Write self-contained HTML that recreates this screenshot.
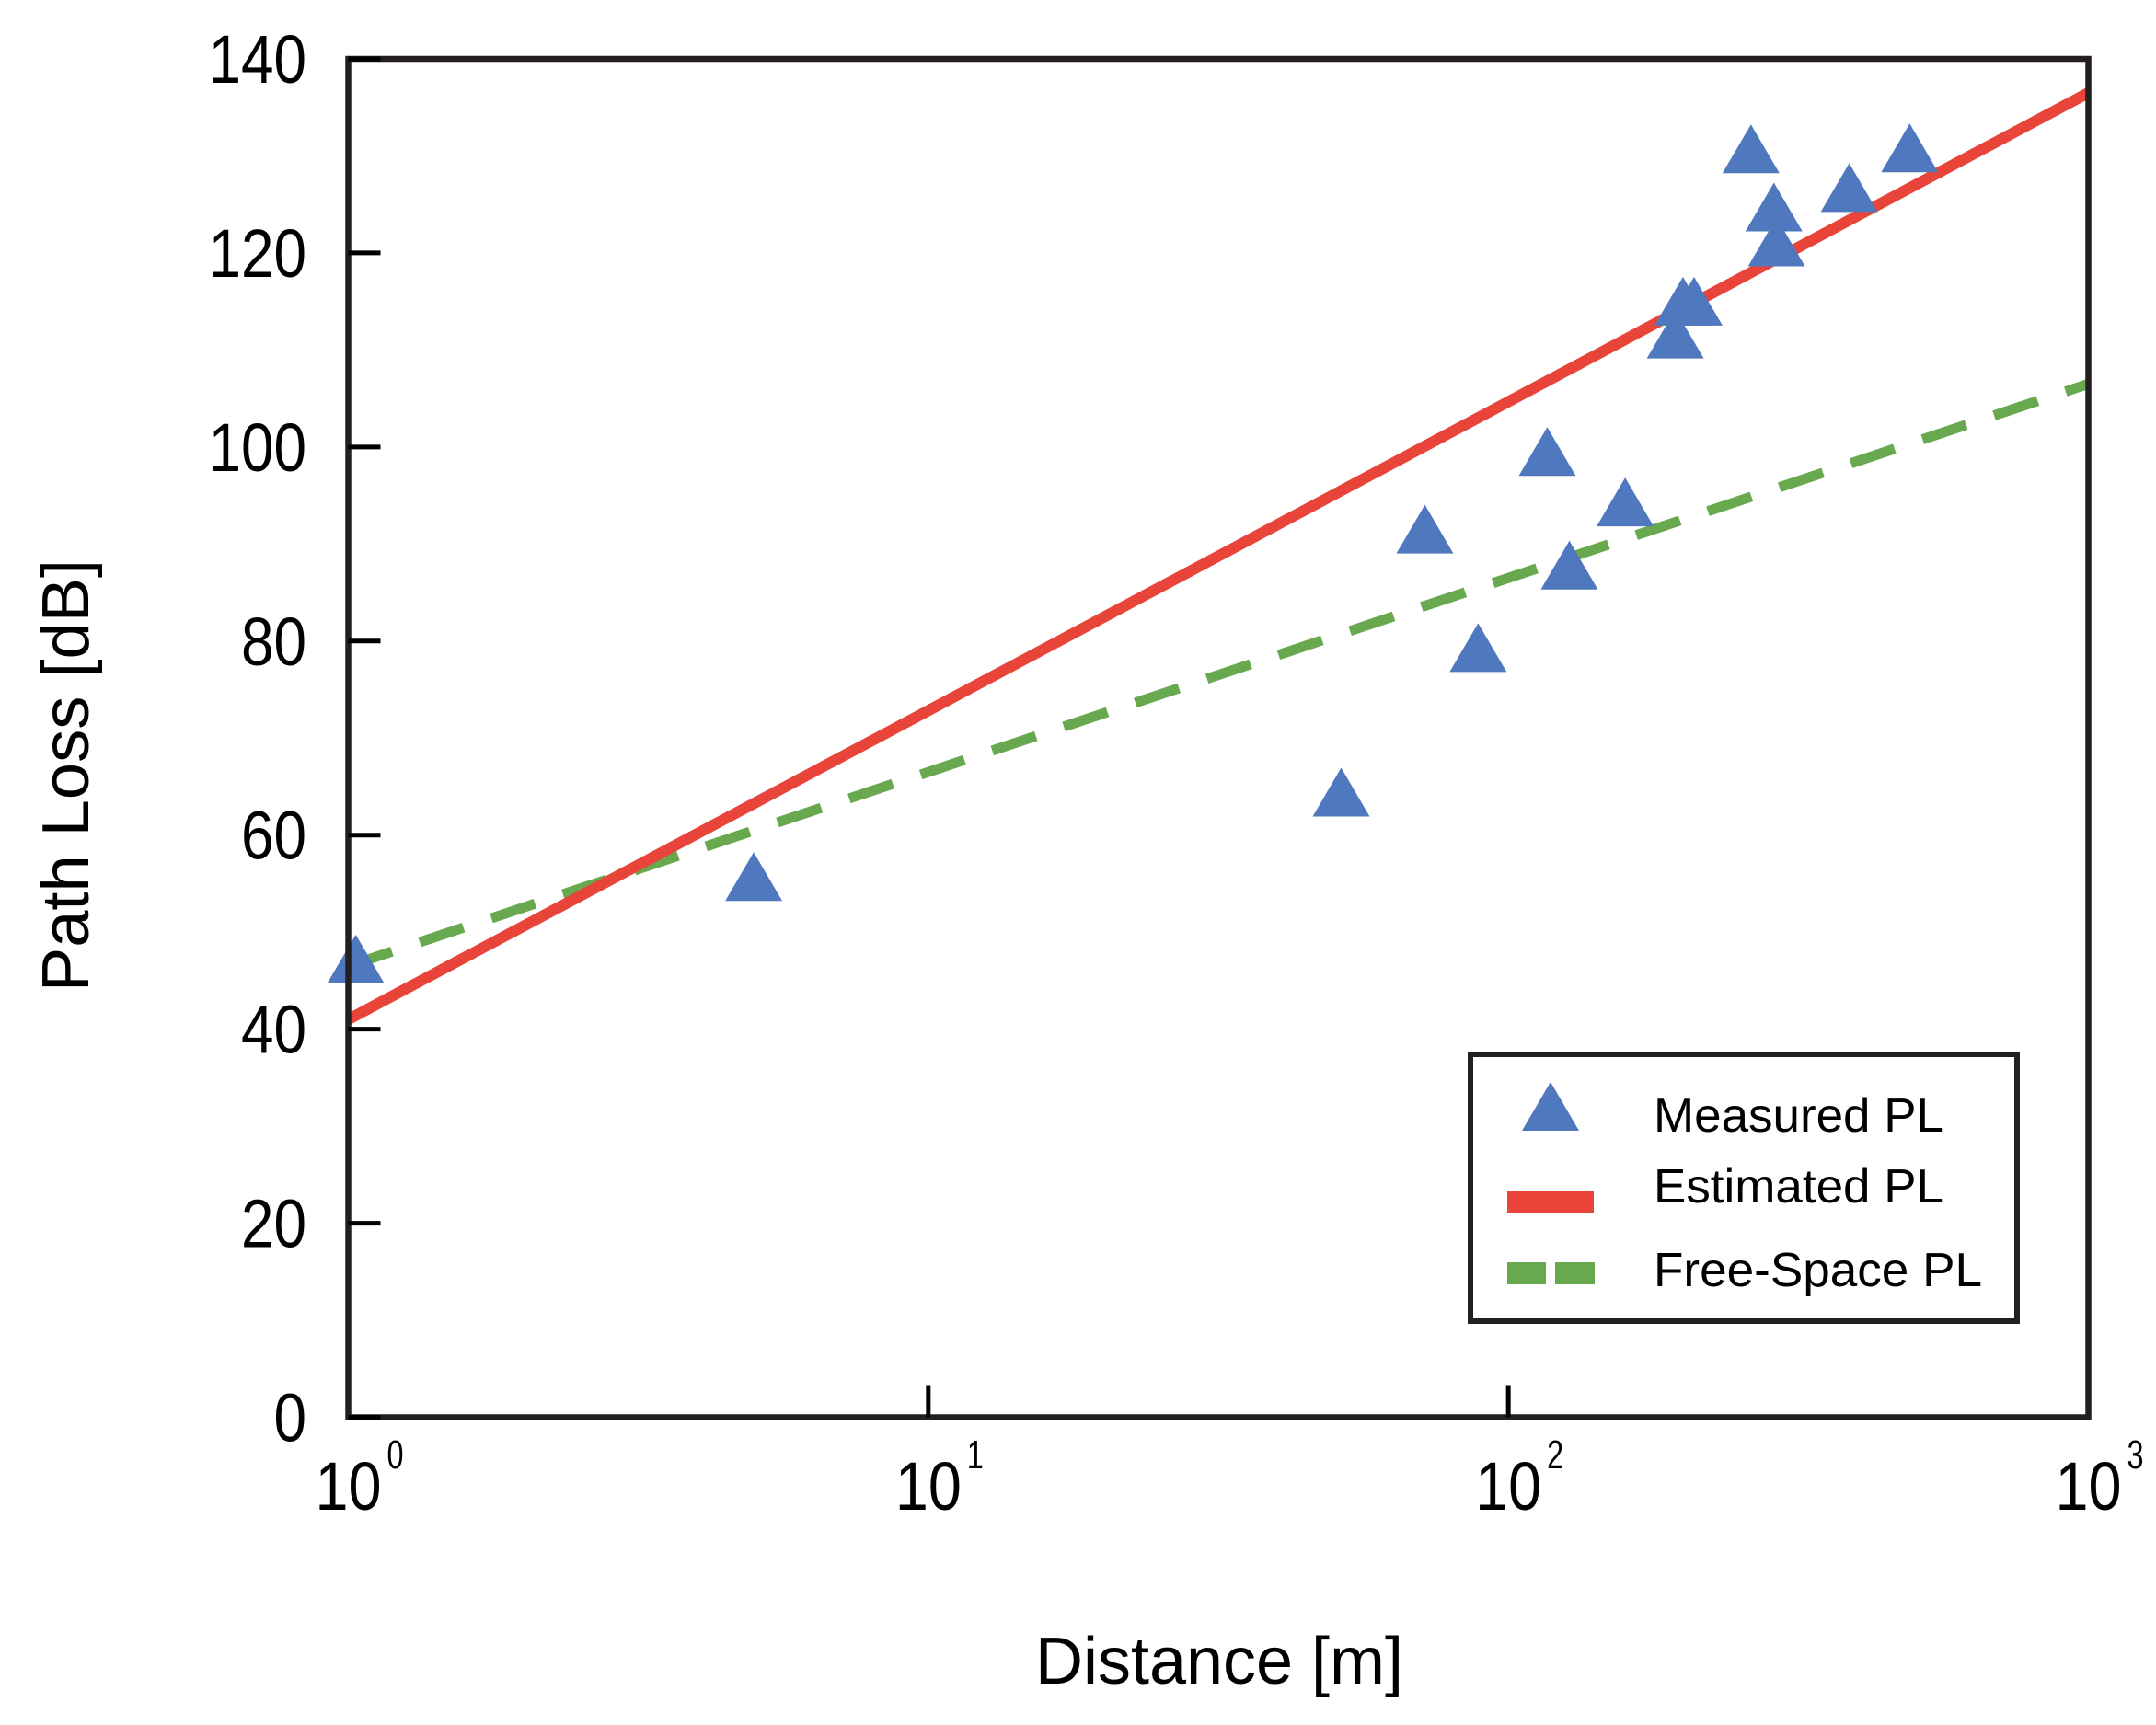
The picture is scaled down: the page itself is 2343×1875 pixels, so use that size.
<!DOCTYPE html>
<html><head><meta charset="utf-8"><style>
html,body{margin:0;padding:0;background:#fff}
svg{display:block}
text{font-family:"Liberation Sans",Arial,sans-serif;fill:#000}
</style></head><body>
<svg id="chart" width="2343" height="1875" viewBox="0 0 2343 1875" xmlns="http://www.w3.org/2000/svg">
<g id="plot"></g>
<g id="axes"></g>
<g id="legend">
  <rect x="1598" y="1146" width="594" height="290" fill="#fff" stroke="#231f20" stroke-width="6"/>
  <polygon points="1685,1176 1654,1229 1716,1229" fill="#4f78be"/>
  <text x="1797" y="1230" font-size="52" textLength="315" lengthAdjust="spacingAndGlyphs">Measured PL</text>
  <rect x="1638" y="1295" width="94" height="23" fill="#e9443a"/>
  <text x="1797" y="1307" font-size="52" textLength="315" lengthAdjust="spacingAndGlyphs">Estimated PL</text>
  <rect x="1638" y="1372" width="42" height="24" fill="#68a84e"/>
  <rect x="1690" y="1372" width="43" height="24" fill="#68a84e"/>
  <text x="1797" y="1398" font-size="52" textLength="357" lengthAdjust="spacingAndGlyphs">Free-Space PL</text>
</g>
<text transform="translate(96,843) rotate(-90)" text-anchor="middle" font-size="72" textLength="470" lengthAdjust="spacingAndGlyphs">Path Loss [dB]</text>
<text x="1325" y="1830" text-anchor="middle" font-size="72" textLength="400" lengthAdjust="spacingAndGlyphs">Distance [m]</text>
</svg>
<script>
const measuredDist = [1.03, 5.0, 51.5, 71.8, 88.7, 116.7, 127.4, 159, 194, 200, 209, 262, 287, 290, 387, 492];
const measuredPL = [46.9, 55.4, 64.1, 91.2, 79.0, 99.2, 87.5, 94.0, 111.3, 114.7, 114.7, 130.4, 124.4, 120.8, 126.4, 130.5];
const estimatedDist = [1, 1000];
const estimatedPL = [41.0, 136.5];
const freeSpaceDist = [1, 1000];
const freeSpacePL = [46.5, 106.5];
const yTicks = [0, 20, 40, 60, 80, 100, 120, 140];
const xTickExp = [0, 1, 2, 3];

const L = 378.5, R = 2269.5, T = 64, B = 1540.5;
const xs = d => L + (Math.log10(d) - 0) / 3 * (R - L);
const ys = v => B - v / 140 * (B - T);
const NS = 'http://www.w3.org/2000/svg';
function mk(tag, attrs, parent) {
  const e = document.createElementNS(NS, tag);
  for (const k in attrs) e.setAttribute(k, attrs[k]);
  parent.appendChild(e);
  return e;
}
const plot = document.getElementById('plot');
const axes = document.getElementById('axes');

const fs = mk('line', {x1: xs(freeSpaceDist[0]), y1: ys(freeSpacePL[0]), x2: xs(freeSpaceDist[1]), y2: ys(freeSpacePL[1]), stroke: '#68a84e', 'stroke-width': 11, 'stroke-dasharray': '50 32'}, plot);


const es = mk('line', {x1: xs(estimatedDist[0]), y1: ys(estimatedPL[0]), x2: xs(estimatedDist[1]), y2: ys(estimatedPL[1]), stroke: '#e9443a', 'stroke-width': 12}, plot);


measuredDist.forEach((d, i) => {
  const cx = xs(d), cy = ys(measuredPL[i]);
  const p = mk('polygon', {points: `${cx},${cy-30} ${cx-31},${cy+23} ${cx+31},${cy+23}`, fill: '#4f78be'}, plot);
  
  
});

const fr = mk('rect', {x: L, y: T, width: R - L, height: B - T, fill: 'none', stroke: '#231f20', 'stroke-width': 6.5}, axes);



yTicks.forEach(v => {
  const y = ys(v);
  const t = mk('line', {x1: L, y1: y, x2: L + 35, y2: y, stroke: '#000', 'stroke-width': 5}, axes);
  
  
  const s = String(v);
  const lb = mk('text', {x: 333, y: y + 26, 'text-anchor': 'end', 'font-size': 74, textLength: s.length * 35.5, lengthAdjust: 'spacingAndGlyphs'}, axes);
  lb.textContent = s;
  
  
});

xTickExp.forEach(e => {
  const x = xs(Math.pow(10, e));
  if (e > 0 && e < 3) {
    const t = mk('line', {x1: x, y1: B, x2: x, y2: B - 35, stroke: '#000', 'stroke-width': 5}, axes);
    
    
  }
  const lb = mk('text', {x: x, y: 1641, 'text-anchor': 'middle', 'font-size': 74, textLength: 72, lengthAdjust: 'spacingAndGlyphs'}, axes);
  lb.textContent = '10';
  
  
  const sp = mk('text', {x: x + 42, y: 1596, 'font-size': 44, textLength: 18, lengthAdjust: 'spacingAndGlyphs'}, axes);
  sp.textContent = String(e);
  
  
});
</script>
</body></html>
